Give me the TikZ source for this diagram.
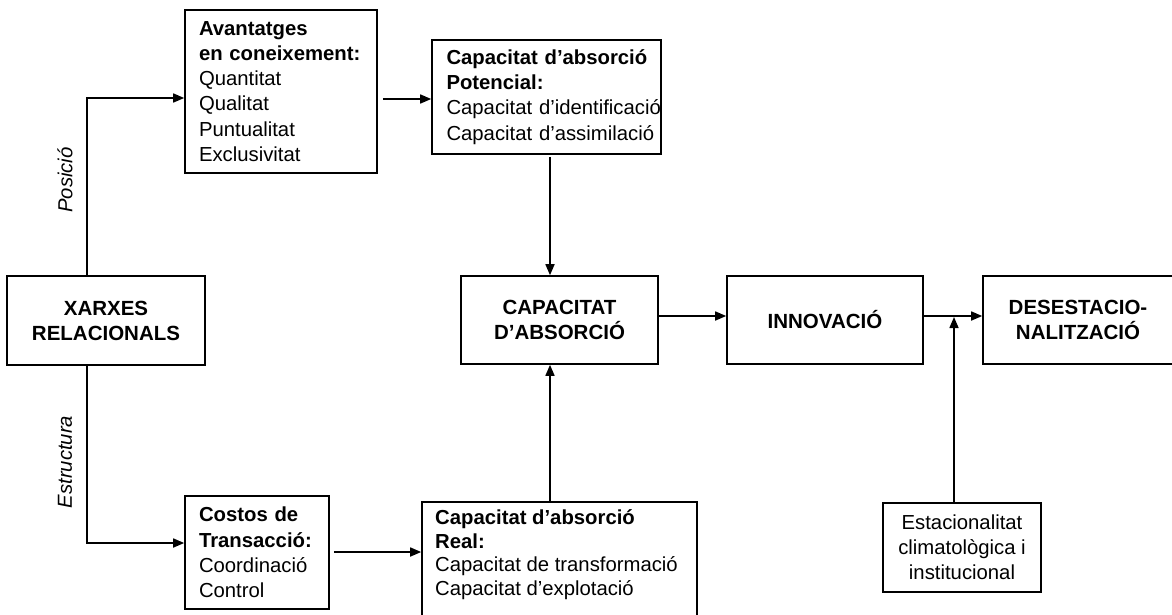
\documentclass[tikz,border=0pt]{standalone}
\usepackage{fontspec}
\setmainfont{Liberation Sans}
\usetikzlibrary{arrows.meta,calc}
\begin{document}
\begin{tikzpicture}[x=1pt,y=-1pt,
  box/.style={draw, line width=1.6pt, inner sep=0pt,
    font=\fontsize{20.3}{25.2}\selectfont},
  cbox/.style={box, align=center, font=\fontsize{20.5}{25}\selectfont\bfseries},
  lbox/.style={box, align=left, inner xsep=#1},
  conn/.style={line width=1.6pt},
  arr/.style={conn, -{Triangle[length=11pt,width=9pt]}},
  side/.style={rotate=90, inner sep=0pt, font=\fontsize{20.3}{24}\selectfont\itshape}
]
\useasboundingbox (0,0) rectangle (1172,614);

% main row
\node[cbox, minimum width=198pt, minimum height=89pt] (xarxes) at (106,320.5) {XARXES\\RELACIONALS};
\node[cbox, minimum width=197pt, minimum height=88pt] (cap) at (559.5,320) {CAPACITAT\\D’ABSORCIÓ};
\node[cbox, minimum width=196pt, minimum height=88pt] (innov) at (825,320) {INNOVACIÓ};
\node[cbox, minimum width=190pt, minimum height=88pt] (deses) at (1078,320) {DESESTACIO-\\NALITZACIÓ};

% upper branch
\node[lbox=14pt, text width=164pt, minimum height=163pt] (avant) at (281,91.5)
  {\textbf{Avantatges}\\\mbox{\textbf{en coneixement:}}\\Quantitat\\Qualitat\\Puntualitat\\Exclusivitat};
\node[lbox=14.5pt, text width=200pt, minimum height=114pt] (pot) at (546.5,97)
  {\mbox{\textbf{Capacitat d’absorció}}\\\textbf{Potencial:}\\\mbox{Capacitat d’identificació}\\\mbox{Capacitat d’assimilació}};

% lower branch
\node[lbox=14pt, text width=116pt, minimum height=113pt] (costos) at (257,552.5)
  {\textbf{Costos de}\\\mbox{\textbf{Transacció:}}\\Coordinació\\Control};
\node[box, minimum width=275pt, minimum height=138pt] (real) at (559.5,571) {};
\node[anchor=north west, inner sep=0pt, align=left,
  font=\fontsize{20.3}{23.5}\selectfont] (realtext) at (435,509.5)
  {\textbf{Capacitat d’absorció}\\\textbf{Real:}\\Capacitat de transformació\\Capacitat d’explotació};

\node[box, align=center, minimum width=158pt, minimum height=89pt] (estac) at (962,547.5)
  {Estacionalitat\\climatològica i\\institucional};

% branch labels
\node[side] (posicio) at (65,180) {Posició};
\node[side] (estructura) at (65,462) {Estructura};

% connectors
\coordinate (bendtop) at (87,98);
\coordinate (bendbot) at (87,543);
\draw[arr] (bendtop |- xarxes.north) |- (bendtop -| avant.west);
\draw[arr] (bendbot |- xarxes.south) |- (bendbot -| costos.west);

\coordinate (rowa) at (0,99);
\draw[arr] ($(rowa -| avant.east)+(5,0)$) -- (rowa -| pot.west);

\coordinate (rowb) at (0,552);
\draw[arr] ($(rowb -| costos.east)+(4,0)$) -- (rowb -| real.west);

\coordinate (colcap) at (550,0);
\draw[arr] ($(colcap |- pot.south)+(0,2)$) -- (colcap |- cap.north);
\draw[arr] (colcap |- real.north) -- (colcap |- cap.south);

\coordinate (rowmain) at (0,316);
\draw[arr] (rowmain -| cap.east) -- (rowmain -| innov.west);
\draw[arr] (rowmain -| innov.east) -- (rowmain -| deses.west);

\coordinate (colest) at (954,0);
\draw[arr] (colest |- estac.north) -- ($(colest |- rowmain)+(0,1)$);
\end{tikzpicture}
\end{document}
